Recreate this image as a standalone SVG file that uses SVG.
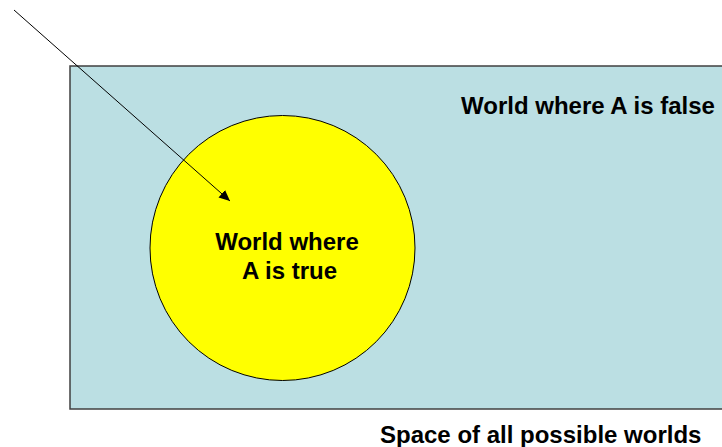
<svg xmlns="http://www.w3.org/2000/svg" width="722" height="447" viewBox="0 0 722 447">
<style>
  .lbl { font-family: "Liberation Sans", Arial, sans-serif; font-weight: bold; font-size: 24px; fill: #000; }
</style>
<defs>
  <marker id="arrow" viewBox="0 0 10 10" refX="10" refY="5" markerWidth="11" markerHeight="11" markerUnits="userSpaceOnUse" orient="auto">
    <path d="M0,0.5 L10,5 L0,9.5 z" fill="#000"/>
  </marker>
</defs>
<rect width="722" height="447" fill="#fff"/>
<g id="space">
  <rect x="70" y="66" width="660" height="343" fill="#BBDFE3" stroke="#404040" stroke-width="1.5"/>
  <text class="lbl" x="461" y="114">World where A is false</text>
  <text class="lbl" x="380" y="443">Space of all possible worlds</text>
</g>
<g id="a-true">
  <circle cx="282.5" cy="248" r="132.5" fill="#FFFF00" stroke="#000" stroke-width="1"/>
  <text class="lbl" x="287" y="250" text-anchor="middle">World where</text>
  <text class="lbl" x="289.5" y="279" text-anchor="middle">A is true</text>
</g>
<g id="connectors">
  <line x1="14" y1="10" x2="230" y2="201" stroke="#000" stroke-width="1" marker-end="url(#arrow)"/>
</g>
</svg>
